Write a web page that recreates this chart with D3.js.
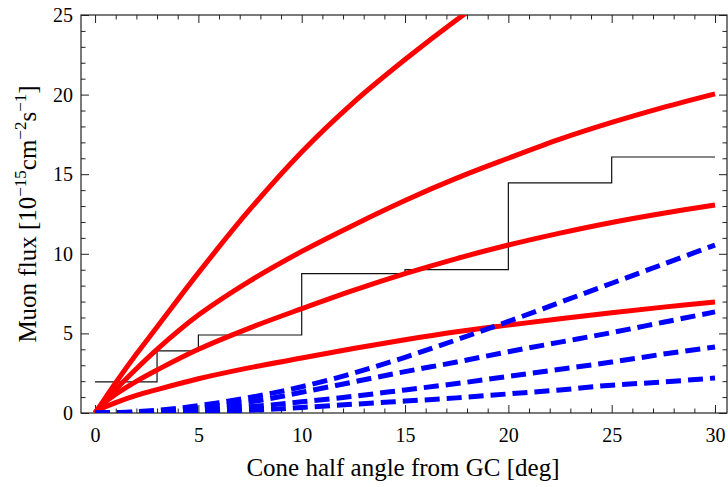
<!DOCTYPE html>
<html>
<head>
<meta charset="utf-8">
<title>Muon flux vs cone half angle</title>
<script src="https://cdn.jsdelivr.net/npm/d3@7"></script>
<style>
  body { margin: 0; background: #fff; }
  svg { display: block; font-family: "Liberation Serif", "DejaVu Serif", serif; }
</style>
</head>
<body>
<script>
// values (angle in deg, flux in 1e-15 cm^-2 s^-1)
var redAngles = [0, 0.5, 1, 2, 3, 5, 7.5, 10, 12.5, 15, 17.5, 20, 22.5, 25, 27.5, 30];
var red1 = [0, 0.95, 1.9, 3.7, 5.4, 8.8, 12.8, 16.4, 19.5, 22.2, 24.7, 27.0, 29.1, 31.0, 32.8, 34.5];
var red2 = [0, 0.8, 1.48, 2.78, 4.0, 6.15, 8.3, 10.15, 11.8, 13.35, 14.75, 16.0, 17.2, 18.25, 19.2, 20.05];
var red3 = [0, 0.7, 1.18, 1.99, 2.7, 4.0, 5.35, 6.55, 7.7, 8.75, 9.7, 10.55, 11.3, 11.97, 12.55, 13.07];
var red4 = [0, 0.39, 0.65, 1.1, 1.47, 2.15, 2.85, 3.45, 4.05, 4.6, 5.1, 5.52, 5.92, 6.3, 6.65, 6.97];

var blueAngles = [0, 2, 4, 6, 8, 10, 12.5, 15, 17.5, 20, 22.5, 25, 27.5, 30];
var blue1 = [0, 0.08, 0.3, 0.65, 1.1, 1.65, 2.5, 3.5, 4.6, 5.75, 6.95, 8.15, 9.35, 10.55];
var blue2 = [0, 0.05, 0.2, 0.45, 0.8, 1.3, 1.95, 2.6, 3.2, 3.85, 4.45, 5.05, 5.7, 6.35];
var blue3 = [0, 0.02, 0.1, 0.25, 0.45, 0.7, 1.05, 1.45, 1.85, 2.3, 2.75, 3.2, 3.7, 4.15];
var blue4 = [0, 0.01, 0.05, 0.12, 0.2, 0.35, 0.55, 0.75, 0.95, 1.2, 1.45, 1.75, 1.95, 2.2];

// measured (step) histogram: bin edges and values
var stepEdges = [0, 3, 5, 10, 15, 20, 25, 30];
var stepValues = [1.95, 3.9, 4.9, 8.75, 9.0, 14.45, 16.08, 16.08];

var xMajor = [0, 5, 10, 15, 20, 25, 30];
var yMajor = [0, 5, 10, 15, 20, 25];

var W = 728, H = 487;
var x = d3.scaleLinear().domain([-0.68, 30.58]).range([81, 727]);
var y = d3.scaleLinear().domain([0, 25]).range([413, 15]);

var svg = d3.select("body").append("svg")
    .attr("width", W)
    .attr("height", H);

svg.append("defs").append("clipPath").attr("id", "plot")
  .append("rect")
    .attr("x", x.range()[0]).attr("y", y.range()[1])
    .attr("width", x.range()[1] - x.range()[0])
    .attr("height", y.range()[0] - y.range()[1]);

// minor tick positions
var xMinor = d3.range(0, 31).filter(function(d) { return d % 5 != 0; });
var yMinor = d3.range(0, 26).filter(function(d) { return d % 5 != 0; });

function styleAxis(g) {
  g.select(".domain").remove();
  g.selectAll(".tick line").attr("stroke", "#222").attr("stroke-width", 1);
  g.selectAll("text").attr("fill", "#000").style("font-size", "20px")
    .style("font-family", "'Liberation Serif', serif");
}

// bottom
svg.append("g").attr("transform", "translate(0," + y(0) + ")")
  .call(d3.axisBottom(x).tickValues(xMajor).tickSizeInner(-8).tickSizeOuter(0).tickPadding(15).tickFormat(d3.format("d")))
  .call(styleAxis);
svg.append("g").attr("transform", "translate(0," + y(0) + ")")
  .call(d3.axisBottom(x).tickValues(xMinor).tickSizeInner(-4.5).tickSizeOuter(0).tickFormat(""))
  .call(styleAxis);
// top
svg.append("g").attr("transform", "translate(0," + y(25) + ")")
  .call(d3.axisTop(x).tickValues(xMajor).tickSizeInner(-8).tickSizeOuter(0).tickFormat(""))
  .call(styleAxis);
svg.append("g").attr("transform", "translate(0," + y(25) + ")")
  .call(d3.axisTop(x).tickValues(xMinor).tickSizeInner(-4.5).tickSizeOuter(0).tickFormat(""))
  .call(styleAxis);
// left
svg.append("g").attr("transform", "translate(" + x.range()[0] + ",0)")
  .call(d3.axisLeft(y).tickValues(yMajor).tickSizeInner(-8).tickSizeOuter(0).tickPadding(8).tickFormat(d3.format("d")))
  .call(styleAxis);
svg.append("g").attr("transform", "translate(" + x.range()[0] + ",0)")
  .call(d3.axisLeft(y).tickValues(yMinor).tickSizeInner(-4.5).tickSizeOuter(0).tickFormat(""))
  .call(styleAxis);
// right
svg.append("g").attr("transform", "translate(" + x.range()[1] + ",0)")
  .call(d3.axisRight(y).tickValues(yMajor).tickSizeInner(-8).tickSizeOuter(0).tickFormat(""))
  .call(styleAxis);
svg.append("g").attr("transform", "translate(" + x.range()[1] + ",0)")
  .call(d3.axisRight(y).tickValues(yMinor).tickSizeInner(-4.5).tickSizeOuter(0).tickFormat(""))
  .call(styleAxis);

// frame
svg.append("rect")
    .attr("x", x.range()[0]).attr("y", y.range()[1])
    .attr("width", x.range()[1] - x.range()[0])
    .attr("height", y.range()[0] - y.range()[1])
    .attr("fill", "none").attr("stroke", "#222").attr("stroke-width", 1.2);

var plot = svg.append("g").attr("clip-path", "url(#plot)");

// step histogram
var step = d3.line()
    .x(function(d, i) { return x(stepEdges[i]); })
    .y(function(d) { return y(d); })
    .curve(d3.curveStepAfter);
plot.append("path")
    .datum(stepValues)
    .attr("d", step)
    .attr("fill", "none").attr("stroke", "#111").attr("stroke-width", 1.2);

function curveLine(angles) {
  return d3.line()
    .x(function(d, i) { return x(angles[i]); })
    .y(function(d) { return y(d); })
    .curve(d3.curveCatmullRom.alpha(0.5));
}

plot.selectAll(".red")
    .data([red1, red2, red3, red4])
  .enter().append("path")
    .attr("class", "red")
    .attr("d", curveLine(redAngles))
    .attr("fill", "none")
    .attr("stroke", "#ff0000")
    .attr("stroke-width", 5)
    .attr("stroke-linecap", "butt");

plot.selectAll(".blue")
    .data([blue1, blue2, blue3, blue4])
  .enter().append("path")
    .attr("class", "blue")
    .attr("d", curveLine(blueAngles))
    .attr("fill", "none")
    .attr("stroke", "#0000ff")
    .attr("stroke-width", 5)
    .attr("stroke-dasharray", "15,7");

// axis titles
svg.append("text")
    .attr("x", 403)
    .attr("y", 476)
    .attr("text-anchor", "middle")
    .style("font-size", "25px")
    .text("Cone half angle from GC [deg]");

var yt = svg.append("text")
    .attr("transform", "translate(36," + (y.range()[0] + y.range()[1]) / 2 + ") rotate(-90)")
    .attr("text-anchor", "middle")
    .style("font-size", "25px");
yt.append("tspan").text("Muon flux [10");
yt.append("tspan").attr("dy", -10).style("font-size", "17px").text("\u221215");
yt.append("tspan").attr("dy", 10).text("cm");
yt.append("tspan").attr("dy", -10).style("font-size", "17px").text("\u22122");
yt.append("tspan").attr("dy", 10).text("s");
yt.append("tspan").attr("dy", -10).style("font-size", "17px").text("\u22121");
yt.append("tspan").attr("dy", 10).text("]");
</script>
</body>
</html>
